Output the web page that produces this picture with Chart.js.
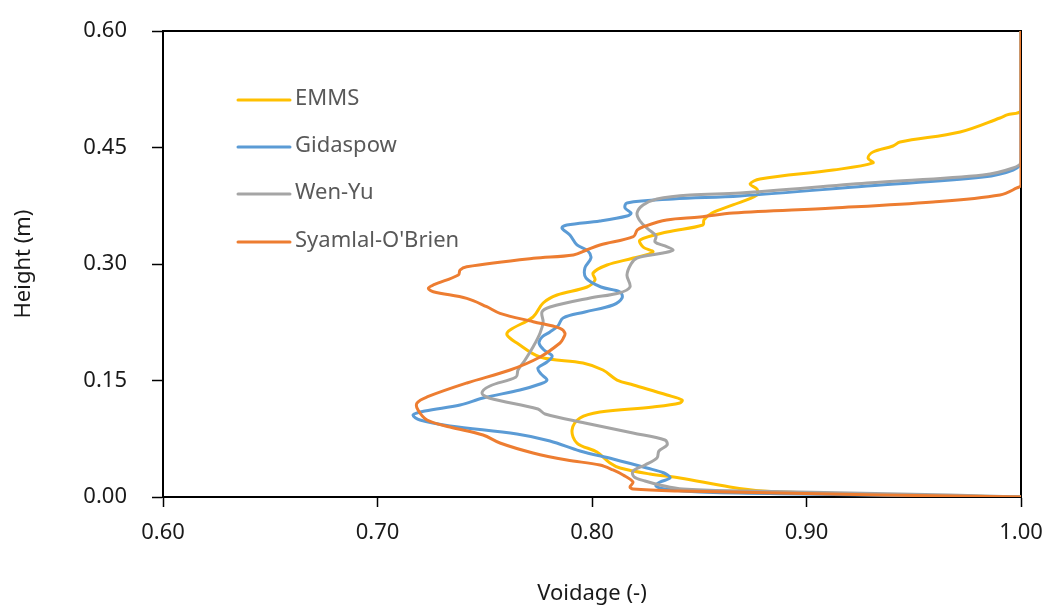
<!DOCTYPE html>
<html>
<head>
<meta charset="utf-8">
<script src="https://cdn.jsdelivr.net/npm/chart.js@4"></script>
<style>
  html, body { margin: 0; padding: 0; background: #fff; }
  #wrap { width: 1047px; height: 608px; }
</style>
</head>
<body>
<div id="wrap"><canvas id="voidage"></canvas></div>
<script>
// series labels (legend order)
const seriesNames = ["EMMS", "Gidaspow", "Wen-Yu", "Syamlal-O'Brien"];
const seriesColors = ["#FFC000", "#5B9BD5", "#A5A5A5", "#ED7D31"];

// EMMS
const emmsVoidage = [1.000, 1.000, 0.9935, 0.9902, 0.9716, 0.9436, 0.9403, 0.9310, 0.9287, 0.9310, 0.9124, 0.8783, 0.8737, 0.8769, 0.8769, 0.8657, 0.8559, 0.8522, 0.8517, 0.8350, 0.8224, 0.8238, 0.8284, 0.8193, 0.8070, 0.8005, 0.8014, 0.7977, 0.7837, 0.7772, 0.7725, 0.7618, 0.7604, 0.7650, 0.7758, 0.7958, 0.8051, 0.8117, 0.8193, 0.8350, 0.8420, 0.8410, 0.8284, 0.8037, 0.7944, 0.7907, 0.7930, 0.8023, 0.8084, 0.8131, 0.8270, 0.8410, 0.8643, 0.8797, 0.9030, 0.9436, 1.000];
const emmsHeight = [0.600, 0.4983, 0.4919, 0.4880, 0.4700, 0.4571, 0.4519, 0.4442, 0.4365, 0.4301, 0.4210, 0.4095, 0.4030, 0.3966, 0.3889, 0.3760, 0.3657, 0.3567, 0.3502, 0.3412, 0.3309, 0.3219, 0.3155, 0.3077, 0.2987, 0.2884, 0.2794, 0.2704, 0.2601, 0.2498, 0.2318, 0.2150, 0.2086, 0.1983, 0.1803, 0.1725, 0.1635, 0.1506, 0.1442, 0.1313, 0.1249, 0.1210, 0.1159, 0.1094, 0.1017, 0.0863, 0.0695, 0.0579, 0.0438, 0.0373, 0.0296, 0.0245, 0.0129, 0.0077, 0.0052, 0.0026, 0.000];

// Gidaspow
const gidaspowVoidage = [1.000, 1.000, 0.9963, 0.9823, 0.9282, 0.8690, 0.8378, 0.8163, 0.8154, 0.8182, 0.8163, 0.8037, 0.7883, 0.7860, 0.7897, 0.7930, 0.7981, 0.7995, 0.7967, 0.7972, 0.8042, 0.8131, 0.8140, 0.8098, 0.7967, 0.7865, 0.7841, 0.7804, 0.7767, 0.7753, 0.7776, 0.7814, 0.7790, 0.7748, 0.7762, 0.7790, 0.7758, 0.7664, 0.7492, 0.7385, 0.7221, 0.7166, 0.7198, 0.7338, 0.7650, 0.7804, 0.7944, 0.8098, 0.8256, 0.8336, 0.8364, 0.8317, 0.8298, 0.8340, 0.8503, 0.8970, 0.9436, 1.000];
const gidaspowHeight = [0.600, 0.4313, 0.4210, 0.4120, 0.4004, 0.3876, 0.3837, 0.3786, 0.3721, 0.3657, 0.3618, 0.3554, 0.3502, 0.3464, 0.3373, 0.3245, 0.3167, 0.3077, 0.2949, 0.2820, 0.2704, 0.2640, 0.2562, 0.2472, 0.2382, 0.2305, 0.2202, 0.2125, 0.2060, 0.1983, 0.1893, 0.1816, 0.1738, 0.1661, 0.1584, 0.1506, 0.1455, 0.1378, 0.1275, 0.1185, 0.1107, 0.1056, 0.0991, 0.0914, 0.0811, 0.0721, 0.0592, 0.0489, 0.0373, 0.0309, 0.0245, 0.0193, 0.0142, 0.0103, 0.0064, 0.0039, 0.0019, 0.000];

// Wen-Yu
const wenYuVoidage = [1.000, 1.000, 0.9963, 0.9823, 0.9282, 0.8690, 0.8457, 0.8303, 0.8238, 0.8210, 0.8224, 0.8261, 0.8298, 0.8294, 0.8340, 0.8378, 0.8331, 0.8210, 0.8182, 0.8163, 0.8177, 0.8126, 0.7991, 0.7804, 0.7767, 0.7772, 0.7758, 0.7725, 0.7688, 0.7655, 0.7646, 0.7524, 0.7487, 0.7520, 0.7748, 0.7781, 0.7967, 0.8191, 0.8340, 0.8350, 0.8312, 0.8303, 0.8247, 0.8191, 0.8196, 0.8247, 0.8317, 0.8424, 0.8723, 0.9203, 0.9669, 1.000];
const wenYuHeight = [0.600, 0.4313, 0.4236, 0.4146, 0.4043, 0.3914, 0.3889, 0.3837, 0.3760, 0.3657, 0.3554, 0.3451, 0.3361, 0.3283, 0.3232, 0.3180, 0.3142, 0.3077, 0.3000, 0.2858, 0.2704, 0.2627, 0.2562, 0.2446, 0.2382, 0.2253, 0.2112, 0.1931, 0.1764, 0.1635, 0.1545, 0.1429, 0.1339, 0.1275, 0.1133, 0.1069, 0.0953, 0.0824, 0.0734, 0.0670, 0.0592, 0.0502, 0.0412, 0.0335, 0.0258, 0.0206, 0.0155, 0.0103, 0.0077, 0.0052, 0.0026, 0.000];

// Syamlal-O'Brien
const syamlalVoidage = [1.000, 1.000, 0.9981, 0.9902, 0.9590, 0.9124, 0.8657, 0.8503, 0.8348, 0.8239, 0.8211, 0.8193, 0.8037, 0.7975, 0.7913, 0.7726, 0.7416, 0.7385, 0.7377, 0.7260, 0.7237, 0.7260, 0.7416, 0.7509, 0.7571, 0.7726, 0.7851, 0.7874, 0.7866, 0.7851, 0.7758, 0.7618, 0.7417, 0.7231, 0.7184, 0.7189, 0.7231, 0.7338, 0.7492, 0.7571, 0.7725, 0.7883, 0.8037, 0.8098, 0.8145, 0.8191, 0.8177, 0.8191, 0.8410, 0.8876, 0.9343, 1.000];
const syamlalHeight = [0.600, 0.4017, 0.3979, 0.3889, 0.3798, 0.3721, 0.3657, 0.3605, 0.3567, 0.3480, 0.3438, 0.3352, 0.3245, 0.3180, 0.3116, 0.3073, 0.2965, 0.2923, 0.2858, 0.2730, 0.2687, 0.2643, 0.2558, 0.2450, 0.2365, 0.2257, 0.2172, 0.2108, 0.2043, 0.1983, 0.1803, 0.1635, 0.1468, 0.1288, 0.1210, 0.1120, 0.0991, 0.0901, 0.0798, 0.0695, 0.0567, 0.0476, 0.0412, 0.0348, 0.0283, 0.0193, 0.0129, 0.0103, 0.0077, 0.0052, 0.0026, 0.000];

// axis ticks
const xTicks = [0.6, 0.7, 0.8, 0.9, 1.0];
const yTicks = [0, 0.15, 0.3, 0.45, 0.6];

const FONT = "'Noto Sans', 'Open Sans', sans-serif";

function toPoints(xs, ys) {
  return xs.map((x, i) => ({ x: x, y: ys[i] }));
}

const allX = [emmsVoidage, gidaspowVoidage, wenYuVoidage, syamlalVoidage];
const allY = [emmsHeight, gidaspowHeight, wenYuHeight, syamlalHeight];

// frame (top + right border) drawn under the lines
const framePlugin = {
  id: "frame",
  beforeDatasetsDraw(chart) {
    const { ctx, chartArea: a } = chart;
    ctx.save();
    ctx.strokeStyle = "#000";
    ctx.lineWidth = 2;
    ctx.beginPath();
    ctx.moveTo(a.left, a.top);
    ctx.lineTo(a.right, a.top);
    ctx.lineTo(a.right, a.bottom);
    ctx.stroke();
    ctx.restore();
  },
};

// legend inside plot area, upper left
const legendPlugin = {
  id: "insideLegend",
  afterDraw(chart) {
    const { ctx } = chart;
    const rows = [100, 147, 194, 242];
    ctx.save();
    ctx.font = "22px " + FONT;
    ctx.textBaseline = "middle";
    ctx.textAlign = "left";
    chart.data.datasets.forEach((ds, i) => {
      const y = rows[i];
      ctx.strokeStyle = ds.borderColor;
      ctx.lineWidth = 3;
      ctx.lineCap = "round";
      ctx.beginPath();
      ctx.moveTo(238, y);
      ctx.lineTo(290, y);
      ctx.stroke();
      ctx.fillStyle = "#595959";
      ctx.fillText(ds.label, 295, y - 1);
    });
    ctx.restore();
  },
};

const datasets = seriesNames.map((name, i) => ({
  label: name,
  data: toPoints(allX[i], allY[i]),
  borderColor: seriesColors[i],
  backgroundColor: seriesColors[i],
  borderWidth: 3,
  pointRadius: 0,
  showLine: true,
  tension: 0.35,
  order: 4 - i, // last series drawn on top
}));

new Chart(document.getElementById("voidage"), {
  type: "scatter",
  data: { datasets: datasets },
  options: {
    responsive: true,
    maintainAspectRatio: false,
    animation: false,
    layout: { padding: { top: 31, right: 26, left: 0, bottom: 0 } },
    plugins: {
      legend: { display: false },
      tooltip: { enabled: false },
    },
    scales: {
      x: {
        type: "linear",
        min: 0.6,
        max: 1.0,
        afterBuildTicks: (scale) => {
          scale.ticks = xTicks.map((v) => ({ value: v }));
        },
        afterFit: (scale) => {
          scale.height = 111;
          scale.paddingLeft = 0;
          scale.paddingRight = 0;
        },
        ticks: {
          padding: 13,
          color: "#1a1a1a",
          font: { family: FONT, size: 22 },
          callback: (v) => Number(v).toFixed(2),
        },
        grid: {
          drawOnChartArea: false,
          drawTicks: true,
          tickLength: 10,
          tickColor: "#000",
          tickWidth: 1.5,
        },
        border: { display: true, color: "#000", width: 2 },
        title: {
          display: true,
          text: "Voidage (-)",
          color: "#1a1a1a",
          font: { family: FONT, size: 22 },
          padding: { top: 0, bottom: 1 },
        },
      },
      y: {
        type: "linear",
        min: 0,
        max: 0.6,
        afterBuildTicks: (scale) => {
          scale.ticks = yTicks.map((v) => ({ value: v }));
        },
        afterFit: (scale) => {
          scale.width = 163;
          scale.paddingTop = 0;
          scale.paddingBottom = 0;
        },
        ticks: {
          padding: 25,
          color: "#1a1a1a",
          font: { family: FONT, size: 22 },
          callback: (v) => Number(v).toFixed(2),
        },
        grid: {
          drawOnChartArea: false,
          drawTicks: true,
          tickLength: 11,
          tickColor: "#000",
          tickWidth: 1.5,
        },
        border: { display: true, color: "#000", width: 2 },
        title: {
          display: true,
          text: "Height (m)",
          color: "#1a1a1a",
          font: { family: FONT, size: 22 },
          padding: { top: 11, bottom: 0 },
        },
      },
    },
  },
  plugins: [framePlugin, legendPlugin],
});
</script>
</body>
</html>
